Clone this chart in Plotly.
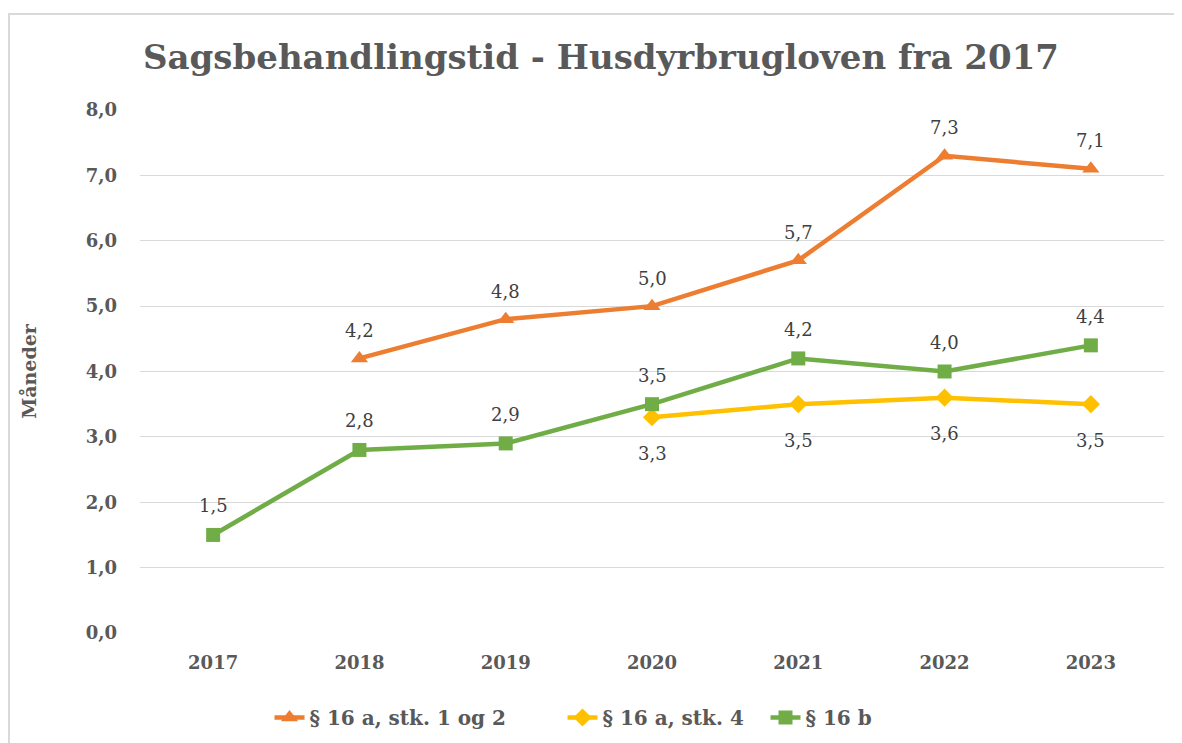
import plotly.graph_objects as go

years = ["2017", "2018", "2019", "2020", "2021", "2022", "2023"]
s1_name = "§ 16 a, stk. 1 og 2"
s1 = [None, 4.2, 4.8, 5.0, 5.7, 7.3, 7.1]
s2_name = "§ 16 a, stk. 4"
s2 = [None, None, None, 3.3, 3.5, 3.6, 3.5]
s3_name = "§ 16 b"
s3 = [1.5, 2.8, 2.9, 3.5, 4.2, 4.0, 4.4]
y_ticks = [0, 1, 2, 3, 4, 5, 6, 7, 8]
y_tick_text = ["0,0", "1,0", "2,0", "3,0", "4,0", "5,0", "6,0", "7,0", "8,0"]

FONT = "DejaVu Serif"
GREY = "#595959"
ML, MR, MT, MB = 132, 26, 102, 118

def fmt(v):
    return f"{v:.1f}".replace(".", ",")

lab_font = dict(family=FONT, size=18, color="#404040")

series = [
    (s1_name, s1, "#ED7D31", "triangle-up", 15, 28, 248),
    (s2_name, s2, "#FFC000", "diamond", 14, -36, 158),
    (s3_name, s3, "#70AD47", "square", 14, 29, 120),
]

fig = go.Figure()
annotations = []
for name, vals, col, sym, msize, shift, lw in series:
    fig.add_trace(go.Scatter(x=years, y=vals, name=name, mode="lines+markers",
                             line=dict(color=col, width=4.5),
                             marker=dict(symbol=sym, size=msize, color=col),
                             legendwidth=lw))
    for i, v in enumerate(vals):
        if v is None:
            continue
        # category axis: position by category index
        annotations.append(dict(x=i, y=v, xref="x", yref="y", text=fmt(v),
                                showarrow=False, yshift=shift, font=lab_font))

pw = 1182 - ML - MR
ph = 743 - MT - MB

fig.update_layout(
    width=1182, height=743,
    paper_bgcolor="white", plot_bgcolor="white",
    margin=dict(l=ML, r=MR, t=MT, b=MB),
    title=dict(text="<b>Sagsbehandlingstid - Husdyrbrugloven fra 2017</b>",
               x=(601 - 8) / 1182, xanchor="center", y=1 - (57 - 8) / 743, yanchor="middle",
               font=dict(family=FONT, size=34, color=GREY)),
    font=dict(family=FONT, color=GREY),
    showlegend=True,
    legend=dict(orientation="h", x=(600 - 8 - ML) / pw, xanchor="center",
                y=-(710 - 8 - 12 - (743 - MB)) / ph, yanchor="top",
                font=dict(family=FONT, size=20, color=GREY, weight="bold"),
                traceorder="normal", bgcolor="rgba(0,0,0,0)"),
    xaxis=dict(type="category", range=[-0.5, 6.5], showgrid=False, showline=False,
               zeroline=False, ticks="",
               tickfont=dict(family=FONT, size=18, color=GREY, weight="bold"),
               ticklabelstandoff=17),
    yaxis=dict(range=[0, 8], tickvals=y_ticks, ticktext=y_tick_text,
               showgrid=True, gridcolor="#D9D9D9", gridwidth=1.3, zeroline=False,
               showline=False, ticks="",
               tickfont=dict(family=FONT, size=18, color=GREY, weight="bold"),
               ticklabelstandoff=22,
               title=dict(text="<b>Måneder</b>", font=dict(family=FONT, size=19, color=GREY),
                          standoff=44)),
    annotations=annotations,
)
# Outer chart border (top and left edges)
x_left = (0 - ML) / pw
y_top = (743 - MB - 6) / ph
fig.add_shape(type="line", xref="paper", yref="paper", x0=x_left, x1=(1182 - ML) / pw,
              y0=y_top, y1=y_top, line=dict(color="#D9D9D9", width=2))
fig.add_shape(type="line", xref="paper", yref="paper", x0=x_left + 1 / pw, x1=x_left + 1 / pw,
              y0=y_top, y1=-MB / ph, line=dict(color="#D9D9D9", width=2))

fig.write_html("out.html")
